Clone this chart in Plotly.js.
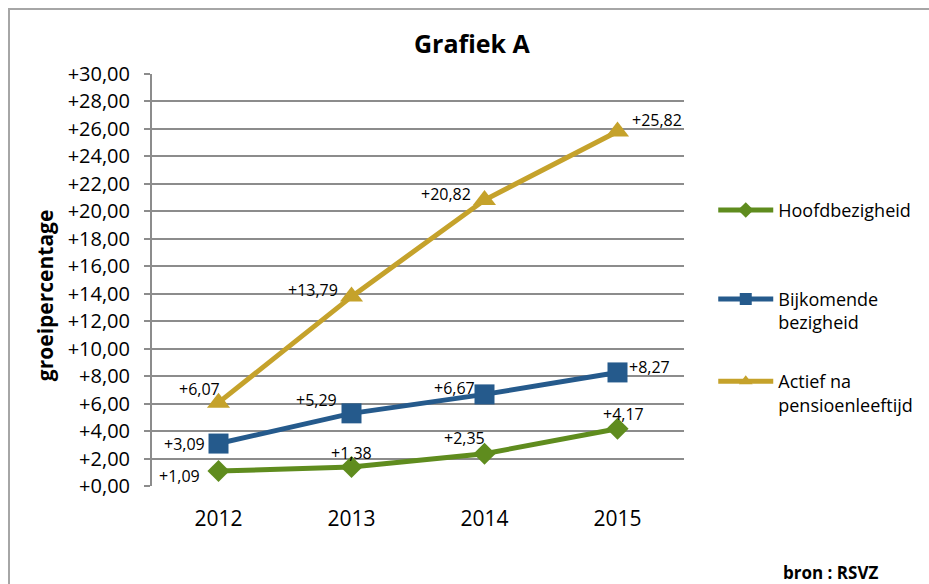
<!DOCTYPE html>
<html><head><meta charset="utf-8">
<script src="https://cdn.plot.ly/plotly-3.0.1.min.js"></script>
<style>
body{margin:0;padding:0;background:#fff;}
#frame{position:absolute;left:8px;top:8px;width:1000px;height:700px;border-left:2px solid #a6a6a6;border-top:2px solid #a6a6a6;}
#chart{position:absolute;left:0;top:0;width:929px;height:584px;}
</style></head>
<body>
<div id="frame"></div>
<div id="chart"></div>
<script>
const years = ['2012','2013','2014','2015'];
const hoofd = [1.09, 1.38, 2.35, 4.17];
const bijkomend = [3.09, 5.29, 6.67, 8.27];
const actief = [6.07, 13.79, 20.82, 25.82];
const seriesNames = ['Hoofdbezigheid', 'Bijkomende<br>bezigheid', 'Actief na<br>pensioenleeftijd'];
const yTickVals = [0,2,4,6,8,10,12,14,16,18,20,22,24,26,28,30];
const yTickText = ['+0,00','+2,00','+4,00','+6,00','+8,00','+10,00','+12,00','+14,00','+16,00','+18,00','+20,00','+22,00','+24,00','+26,00','+28,00','+30,00'];
const yTitle = 'groeipercentage';

const fmt = v => '+' + v.toFixed(2).replace('.', ',');
const FONT = '"Open Sans", sans-serif';

// label offsets in pixels (styling only)
const offHoofd = [[-39,-5],[0,14],[-20,16],[6,15]];
const offBijk = [[-34,0],[-35,13],[-30,6],[32,5]];
const offActief = [[-19,14],[-39,7],[-39,6],[39,11]];

function mk(vals, name, color, symbol, size, leg){
  return {
    x: years, y: vals, name: name, type: 'scatter', mode: 'lines+markers',
    line: {color: color, width: 5},
    marker: {color: color, symbol: symbol, size: size},
    legend: leg, cliponaxis: false
  };
}
const traces = [
  mk(hoofd, seriesNames[0], '#5f8c1e', 'diamond', 17, 'legend'),
  mk(bijkomend, seriesNames[1], '#255a8c', 'square', 20, 'legend2'),
  mk(actief, seriesNames[2], '#c5a22b', 'triangle-up', 20, 'legend3')
];

const annotations = [];
[[hoofd, offHoofd],[bijkomend, offBijk],[actief, offActief]].forEach(([vals, offs]) => {
  vals.forEach((v, i) => {
    annotations.push({x: years.indexOf(years[i]), y: v, xref: 'x', yref: 'y', text: fmt(v), showarrow: false,
      xshift: offs[i][0], yshift: offs[i][1], xanchor: 'center', yanchor: 'middle',
      font: {family: FONT, size: 16, color: '#000'}});
  });
});
annotations.push({text: '<b>bron : RSVZ</b>', xref: 'paper', yref: 'paper', x: 1.276, y: -0.211,
  xanchor: 'center', yanchor: 'middle', showarrow: false, font: {family: FONT, size: 17, color: '#000'}});
annotations.push({text: '<b>' + yTitle + '</b>', xref: 'paper', yref: 'paper', x: -0.2008, y: 0.4636, textangle: -90,
  xanchor: 'center', yanchor: 'middle', showarrow: false, font: {family: FONT, size: 21, color: '#000'}});

const legBase = {xanchor: 'left', yanchor: 'top', valign: 'top', itemwidth: 55, itemsizing: 'constant',
  font: {family: FONT, size: 18, color: '#000'}, bgcolor: 'rgba(0,0,0,0)'};

const layout = {
  width: 929, height: 584,
  paper_bgcolor: 'rgba(0,0,0,0)', plot_bgcolor: 'rgba(0,0,0,0)',
  margin: {l: 152, r: 244, t: 74, b: 98},
  font: {family: FONT, color: '#000'},
  title: {text: '<b>Grafiek A</b>', font: {family: FONT, size: 25, color: '#000'}, xref: 'container', x: 0.508, xanchor: 'center', yref: 'container', y: 0.925, yanchor: 'middle'},
  xaxis: {type: 'category', range: [-0.5, 3.5], showgrid: false, showline: false, ticks: '',
    tickfont: {family: FONT, size: 21, color: '#000'}, ticklabelstandoff: 18, zeroline: false, fixedrange: true},
  yaxis: {range: [0, 30], tickvals: yTickVals, ticktext: yTickText, showgrid: true, gridcolor: '#8c8c8c', gridwidth: 2,
    showline: true, linecolor: '#8c8c8c', linewidth: 2, ticks: 'outside', ticklen: 6, tickcolor: '#8c8c8c', tickwidth: 2,
    tickfont: {family: FONT, size: 20, color: '#000'}, ticklabelstandoff: 10, zeroline: false},
  legend: Object.assign({x: 1.053, y: 0.714}, legBase),
  legend2: Object.assign({x: 1.053, y: 0.498}, legBase),
  legend3: Object.assign({x: 1.053, y: 0.2985}, legBase),
  showlegend: true,
  annotations: annotations
};
Plotly.newPlot('chart', traces, layout, {displayModeBar: false});
</script>
</body></html>
